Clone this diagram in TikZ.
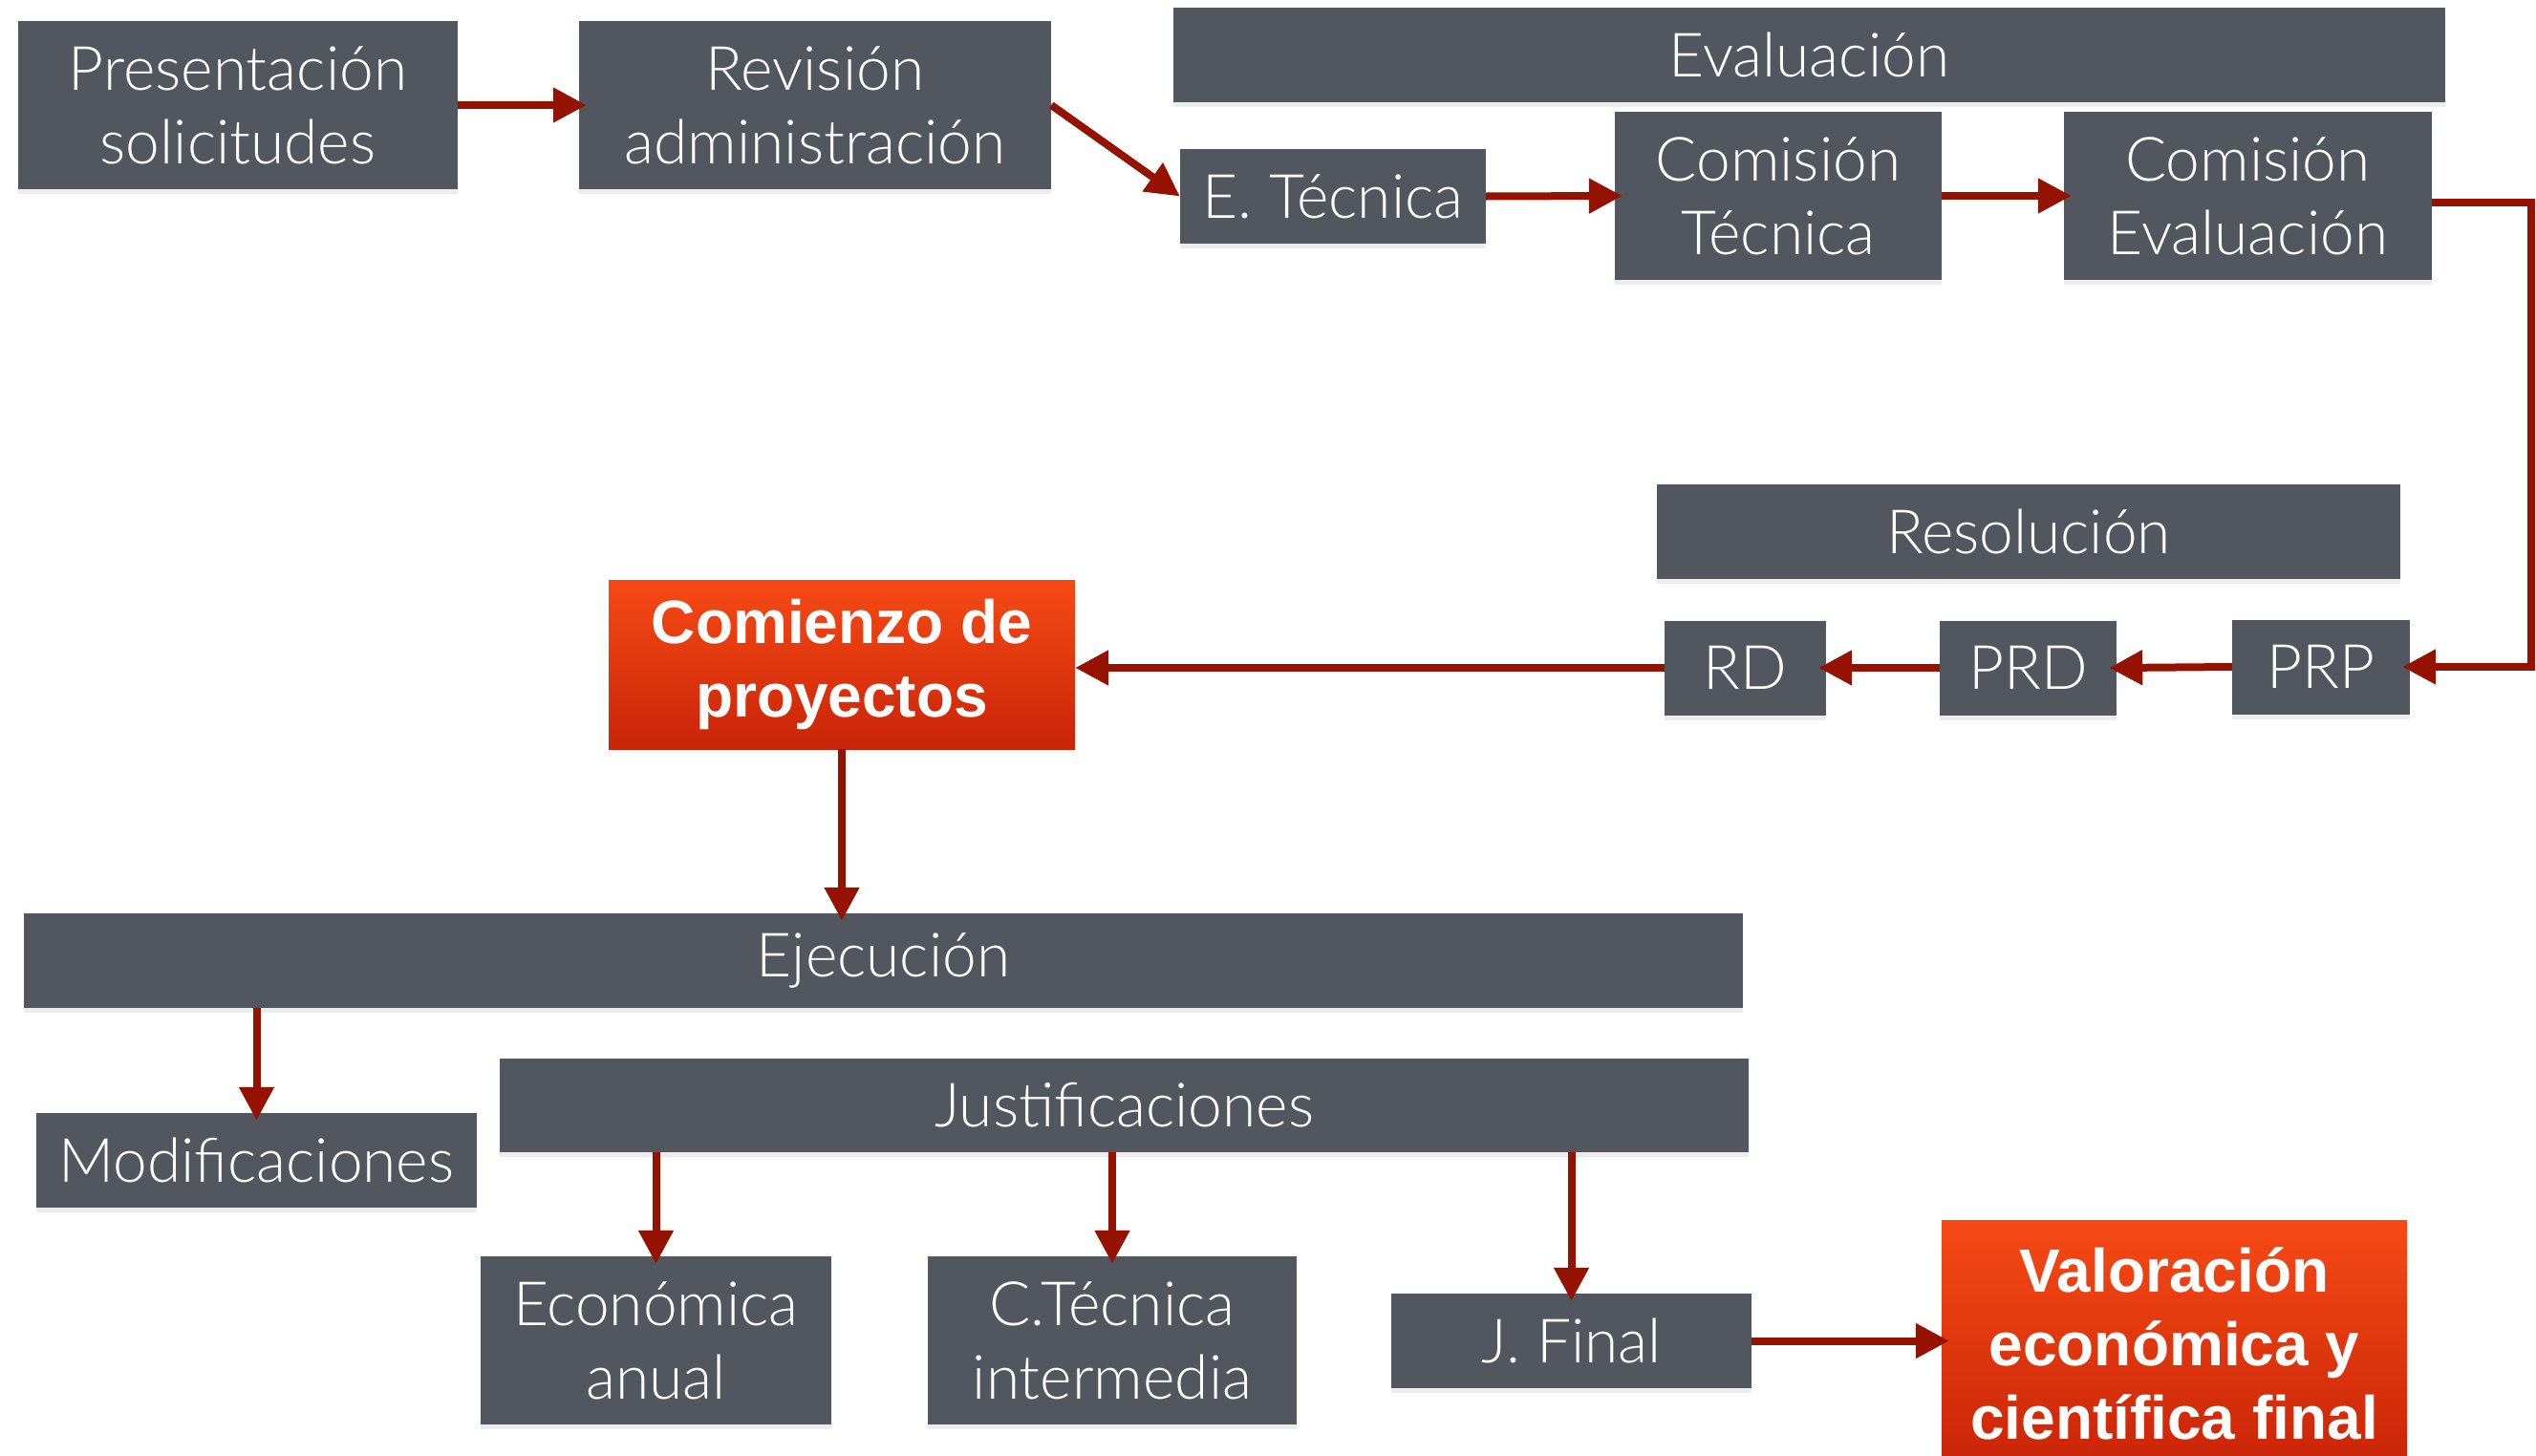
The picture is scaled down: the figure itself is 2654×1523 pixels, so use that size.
\documentclass[tikz,border=0pt]{standalone}
\usepackage{fontspec}
\setmainfont{Lato Light}
\newfontfamily\boldf{Liberation Sans}[UprightFont={* Bold}]
\usetikzlibrary{arrows.meta,shadows}
\definecolor{boxgray}{HTML}{52565F}
\definecolor{arrowc}{HTML}{961200}
\definecolor{orangeT}{HTML}{F64A15}
\definecolor{orangeB}{HTML}{C92408}
\tikzset{
  gbox/.style={fill=boxgray, text=white, inner sep=0pt, align=center,
    font=\fontsize{64}{77}\selectfont,
    drop shadow={shadow xshift=0pt, shadow yshift=-5pt, opacity=0.15}},
  obox/.style={top color=orangeT, bottom color=orangeB, text=white, inner sep=0pt,
    align=center, font=\boldf\fontsize{64}{77}\selectfont},
  arr/.style={draw=arrowc, line width=8pt, -{Triangle[length=35pt,width=35pt]},
    shorten >=-8pt},
}
\begin{document}
\begin{tikzpicture}[x=1pt,y=-1pt]
\useasboundingbox (0,0) rectangle (2654,1523);
% top row
\node[gbox, minimum width=460pt, minimum height=176pt] (pres) at (249,110) {Presentación\\solicitudes};
\node[gbox, minimum width=494pt, minimum height=176pt] (rev) at (853,110) {Revisión\\administración};
\node[gbox, minimum width=1331pt, minimum height=99pt] (evalh) at (1893.5,57.5) {Evaluación};
\node[gbox, minimum width=320pt, minimum height=99pt] (etec) at (1395,205.5) {E. Técnica};
\node[gbox, minimum width=342pt, minimum height=176pt] (ct) at (1861,205) {Comisión\\Técnica};
\node[gbox, minimum width=385pt, minimum height=176pt] (ce) at (2352.5,205) {Comisión\\Evaluación};
% resolution
\node[gbox, minimum width=778pt, minimum height=99pt] (resh) at (2123,556.5) {Resolución};
\node[gbox, minimum width=169pt, minimum height=99pt] (rd) at (1826.5,699) {RD};
\node[gbox, minimum width=185pt, minimum height=99pt] (prd) at (2122.5,699) {PRD};
\node[gbox, minimum width=186pt, minimum height=99pt] (prp) at (2429,698) {PRP};
\node[obox, minimum width=488pt, minimum height=177pt] (com) at (881,695.5) {Comienzo de\\proyectos};
% execution
\node[gbox, minimum width=1799pt, minimum height=99pt] (ejec) at (924.5,1005.5) {Ejecución};
\node[gbox, minimum width=461pt, minimum height=99pt] (mod) at (268.5,1214.5) {Modificaciones};
\node[gbox, minimum width=1307pt, minimum height=98pt] (just) at (1176.5,1157) {Justificaciones};
\node[gbox, minimum width=367pt, minimum height=176pt] (eco) at (686.5,1403) {Económica\\anual};
\node[gbox, minimum width=386pt, minimum height=176pt] (ctec) at (1164,1403) {C.Técnica\\intermedia};
\node[gbox, minimum width=377pt, minimum height=99pt] (jfin) at (1644.5,1403.5) {J. Final};
\node[obox, minimum width=487pt, minimum height=258pt] (val) at (2275.5,1406) {Valoración\\económica y\\científica final};
% connectors
\coordinate (rc) at (2649,0);
\coordinate (ceo) at ([yshift=-7pt]ce.east);
\draw[arr] (pres.east) -- (rev.west);
\draw[arr, shorten >=0pt] (rev.east) -- (etec.west);
\draw[arr] (etec.east) -- (ct.west);
\draw[arr] (ct.east) -- (ce.west);
\draw[arr] (ceo) -- (ceo -| rc) |- (prp.east);
\draw[arr] (prp.west) -- (prd.east);
\draw[arr] (prd.west) -- (rd.east);
\draw[arr, shorten >=0pt] (rd.west) -- (com.east |- rd.west);
\draw[arr] (com.south) -- (com.south |- ejec.north);
\draw[arr] (mod.north |- ejec.south) -- (mod.north);
\draw[arr] (eco.north |- just.south) -- (eco.north);
\draw[arr] (ctec.north |- just.south) -- (ctec.north);
\draw[arr] (jfin.north |- just.south) -- (jfin.north);
\draw[arr] (jfin.east) -- (val.west |- jfin.east);
\end{tikzpicture}
\end{document}
